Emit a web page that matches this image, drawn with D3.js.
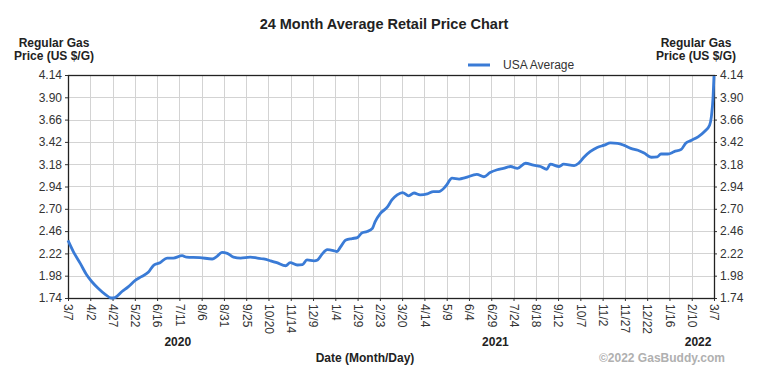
<!DOCTYPE html>
<html>
<head>
<meta charset="utf-8">
<script src="https://cdn.jsdelivr.net/npm/d3@7"></script>
<style>
  body { margin: 0; background: #fff; }
  text { font-family: Arial, 'Liberation Sans', sans-serif; }
</style>
</head>
<body>
<svg id="chart" width="758" height="375"></svg>
<script>
// days since 3/7/2020 and the USA average price
const days = [0, 6, 14, 21, 27, 34, 42, 49, 53, 61, 68, 76, 83, 91, 97, 104, 112, 119, 129, 134,
  149, 163, 168, 174, 180, 187, 195, 206, 214, 221, 229, 236, 246, 251, 259, 265, 270, 278, 282, 287,
  293, 300, 304, 308, 314, 321, 327, 332, 338, 344, 347, 353, 361, 366, 372, 378, 385, 391, 398, 406,
  413, 419, 427, 434, 442, 449, 462, 470, 477, 485, 492, 500, 508, 517, 526, 534, 541, 545, 555, 560,
  572, 577, 583, 590, 598, 606, 613, 621, 628, 636, 644, 651, 659, 666, 670, 678, 685, 693, 698, 704,
  712, 719, 725, 727, 729, 730]
const prices = [2.36, 2.24, 2.11, 1.99, 1.915, 1.845, 1.78, 1.74, 1.745, 1.81, 1.86, 1.93, 1.97, 2.02, 2.095, 2.12, 2.17, 2.17, 2.195, 2.18,
  2.175, 2.16, 2.185, 2.23, 2.22, 2.18, 2.17, 2.18, 2.17, 2.16, 2.14, 2.12, 2.087, 2.12, 2.095, 2.10, 2.15, 2.14, 2.15, 2.21,
  2.26, 2.25, 2.24, 2.29, 2.365, 2.38, 2.39, 2.44, 2.455, 2.49, 2.56, 2.65, 2.72, 2.795, 2.85, 2.875, 2.84, 2.87, 2.85, 2.86,
  2.885, 2.885, 2.945, 3.03, 3.02, 3.035, 3.07, 3.045, 3.09, 3.12, 3.135, 3.155, 3.135, 3.19, 3.17, 3.155, 3.125, 3.18, 3.155, 3.18,
  3.165, 3.19, 3.255, 3.315, 3.36, 3.385, 3.41, 3.405, 3.385, 3.35, 3.33, 3.30, 3.255, 3.26, 3.29, 3.29, 3.315, 3.34, 3.405, 3.435,
  3.475, 3.53, 3.60, 3.69, 3.91, 4.13]

const totalDays = 730
const xTickLabels = ['3/7', '4/2', '4/27', '5/22', '6/16', '7/11', '8/6', '8/31', '9/25', '10/20',
  '11/14', '12/9', '1/4', '1/29', '2/23', '3/20', '4/14', '5/9', '6/4', '6/29',
  '7/24', '8/18', '9/12', '10/7', '11/2', '11/27', '12/22', '1/16', '2/10', '3/7']
const yTicks = [1.74, 1.98, 2.22, 2.46, 2.70, 2.94, 3.18, 3.42, 3.66, 3.90, 4.14]
const years = ['2020', '2021', '2022']
const yearDays = [124, 483, 712]

const margin = { left: 68, right: 44, top: 75, bottom: 77 }
const svg = d3.select('#chart')
const width = +svg.attr('width')
const height = +svg.attr('height')
const lineColor = '#3a7bd6'

const x = d3.scaleLinear()
  .domain([0, totalDays])
  .range([margin.left, width - margin.right])
const y = d3.scaleLinear()
  .domain([yTicks[0], yTicks[yTicks.length - 1]])
  .range([height - margin.bottom, margin.top])

const tickDays = xTickLabels.map((d, i) => i * totalDays / (xTickLabels.length - 1))

// grid
const grid = svg.append('g').attr('stroke', '#d3d3d3').attr('stroke-width', 1)
grid.selectAll('.vg').data(tickDays).enter().append('line')
  .attr('x1', d => Math.round(x(d)) + 0.5).attr('x2', d => Math.round(x(d)) + 0.5)
  .attr('y1', y.range()[1]).attr('y2', y.range()[0])
grid.selectAll('.hg').data(yTicks).enter().append('line')
  .attr('x1', x.range()[0]).attr('x2', x.range()[1])
  .attr('y1', d => Math.round(y(d)) + 0.5).attr('y2', d => Math.round(y(d)) + 0.5)

// axes
const fmt = d3.format('.2f')
const styleAxis = function (g) {
  g.select('.domain').remove()
  g.selectAll('.tick line').attr('stroke', '#333')
  g.selectAll('.tick text').attr('fill', '#333').style('font-size', '12px')
}
svg.append('g')
  .attr('transform', `translate(${x.range()[0]},0)`)
  .call(d3.axisLeft(y).tickValues(yTicks).tickFormat(fmt).tickSize(3).tickPadding(3))
  .call(styleAxis)
svg.append('g')
  .attr('transform', `translate(${x.range()[1]},0)`)
  .call(d3.axisRight(y).tickValues(yTicks).tickFormat(fmt).tickSize(3).tickPadding(3))
  .call(styleAxis)
const xAxis = svg.append('g')
  .attr('transform', `translate(0,${y.range()[0]})`)
  .call(d3.axisBottom(x).tickValues(tickDays).tickFormat((d, i) => xTickLabels[i]).tickSize(3))
  .call(styleAxis)
xAxis.selectAll('.tick text')
  .attr('transform', 'rotate(90)')
  .attr('text-anchor', 'start')
  .attr('x', 6)
  .attr('y', 0)
  .attr('dy', '0.35em')

// frame
svg.append('rect')
  .attr('x', x.range()[0] + 0.5).attr('y', y.range()[1] + 0.5)
  .attr('width', x.range()[1] - x.range()[0]).attr('height', y.range()[0] - y.range()[1])
  .attr('fill', 'none').attr('stroke', '#222').attr('stroke-width', 1.3)

// price line
const line = d3.line()
  .x((d, i) => x(days[i]))
  .y(d => y(d))
  .curve(d3.curveMonotoneX)
svg.append('path')
  .datum(prices)
  .attr('d', line)
  .attr('fill', 'none')
  .attr('stroke', lineColor)
  .attr('stroke-width', 2.8)
  .attr('stroke-linejoin', 'round')

// titles
svg.append('text')
  .attr('x', 384).attr('y', 29)
  .attr('text-anchor', 'middle')
  .style('font-size', '14.5px').style('font-weight', 'bold').attr('fill', '#222')
  .text('24 Month Average Retail Price Chart')

const axisTitle = function (cx) {
  const t = svg.append('text')
    .attr('text-anchor', 'middle')
    .style('font-size', '12px').style('font-weight', 'bold').attr('fill', '#222')
  t.append('tspan').attr('x', cx).attr('y', 47).text('Regular Gas')
  t.append('tspan').attr('x', cx).attr('y', 60).text('Price (US $/G)')
}
axisTitle(54)
axisTitle(696)

// legend
svg.append('line')
  .attr('x1', 468).attr('x2', 490).attr('y1', 65).attr('y2', 65)
  .attr('stroke', lineColor).attr('stroke-width', 3)
svg.append('text')
  .attr('x', 503).attr('y', 69)
  .style('font-size', '12px').attr('fill', '#333')
  .text('USA Average')

// year labels
svg.selectAll('.year').data(years).enter().append('text')
  .attr('x', (d, i) => x(yearDays[i])).attr('y', 346)
  .attr('text-anchor', 'middle')
  .style('font-size', '12px').style('font-weight', 'bold').attr('fill', '#222')
  .text(d => d)

svg.append('text')
  .attr('x', 365).attr('y', 362)
  .attr('text-anchor', 'middle')
  .style('font-size', '12px').style('font-weight', 'bold').attr('fill', '#222')
  .text('Date (Month/Day)')

svg.append('text')
  .attr('x', 725).attr('y', 362)
  .attr('text-anchor', 'end')
  .style('font-size', '12px').style('font-weight', 'bold').attr('fill', '#b0b0b0')
  .text('©2022 GasBuddy.com')
</script>
</body>
</html>
